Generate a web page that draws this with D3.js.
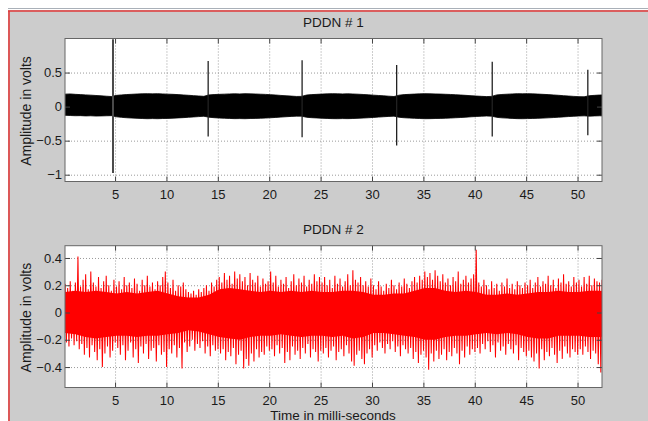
<!DOCTYPE html>
<html>
<head>
<meta charset="utf-8">
<script src="https://cdn.jsdelivr.net/npm/d3@7"></script>
<style>
  body { margin: 0; background: #fff; }
  svg { display: block; }
  text { font-family: "Liberation Sans", Arial, sans-serif; fill: #1a1a1a; }
</style>
</head>
<body>
<svg id="chart" width="648" height="421"></svg>
<script>
// sample timing (ms)
var tStart = 0.14;
var blackStep = 0.5;
var redStep = 0.25;
var coreStep = 1;

// PDDN # 1 : envelope of the dense signal (volts), one pair per 0.5 ms
var pddn1Upper = [
  0.183,0.186,0.18,0.176,0.172,0.168,0.163,0.158,0.153,0.148,
  0.165,0.172,0.177,0.181,0.185,0.188,0.19,0.187,0.19,0.186,0.183,0.18,0.176,0.171,0.166,0.161,0.156,0.151,
  0.172,0.177,0.18,0.183,0.186,0.188,0.186,0.19,0.187,0.185,0.182,0.179,0.175,0.17,0.164,0.159,0.154,0.149,
  0.15,0.17,0.176,0.18,0.184,0.187,0.19,0.188,0.186,0.188,0.185,0.182,0.178,0.173,0.168,0.163,0.158,0.153,0.148,
  0.168,0.176,0.18,0.184,0.187,0.19,0.188,0.186,0.184,0.181,0.178,0.174,0.17,0.165,0.16,0.155,0.151,0.147,
  0.15,0.172,0.178,0.182,0.186,0.19,0.188,0.19,0.187,0.184,0.18,0.176,0.171,0.166,0.16,0.155,0.15,0.146,0.144,
  0.16,0.165,0.17,0.172
];
var pddn1Lower = [
  -0.128,-0.131,-0.134,-0.133,-0.137,-0.135,-0.139,-0.137,-0.135,-0.133,
  -0.15,-0.158,-0.164,-0.168,-0.172,-0.175,-0.178,-0.176,-0.178,-0.175,-0.173,-0.17,-0.166,-0.162,-0.157,-0.152,-0.147,-0.142,
  -0.156,-0.163,-0.168,-0.171,-0.174,-0.177,-0.176,-0.178,-0.175,-0.173,-0.171,-0.168,-0.164,-0.159,-0.154,-0.149,-0.144,-0.14,
  -0.14,-0.157,-0.163,-0.167,-0.171,-0.174,-0.177,-0.178,-0.176,-0.177,-0.175,-0.172,-0.168,-0.164,-0.159,-0.154,-0.149,-0.144,-0.14,
  -0.157,-0.164,-0.168,-0.172,-0.175,-0.178,-0.177,-0.175,-0.173,-0.171,-0.168,-0.164,-0.16,-0.155,-0.15,-0.145,-0.141,-0.138,
  -0.14,-0.158,-0.165,-0.169,-0.173,-0.177,-0.178,-0.176,-0.174,-0.172,-0.169,-0.165,-0.161,-0.156,-0.151,-0.146,-0.142,-0.138,-0.136,
  -0.14,-0.137,-0.135,-0.137
];
// PDDN # 1 : discharge pulses
var pulseTime = [4.8, 14.06, 23.2, 32.4, 41.7, 51.0];
var pulseMax = [0.99, 0.67, 0.68, 0.61, 0.66, 0.54];
var pulseMin = [-0.975, -0.44, -0.45, -0.57, -0.44, -0.42];

// PDDN # 2 : solid core of the noise, one pair per 1 ms
var pddn2CoreHi = [
  0.15,0.16,0.15,0.16,0.15, 0.14,0.15,0.14,0.15,0.16,
  0.14,0.12,0.11,0.11,0.13, 0.17,0.18,0.17,0.16,0.15,
  0.16,0.15,0.16,0.15,0.16, 0.15,0.15,0.16,0.16,0.15,
  0.13,0.13,0.14,0.14,0.16, 0.18,0.18,0.16,0.15,0.16,
  0.15,0.13,0.13,0.14,0.13, 0.14,0.15,0.15,0.16,0.15,
  0.15,0.16,0.16,0.15
];
var pddn2CoreLo = [
  -0.15,-0.16,-0.18,-0.19,-0.18, -0.17,-0.17,-0.18,-0.17,-0.17,
  -0.16,-0.15,-0.13,-0.14,-0.16, -0.18,-0.19,-0.2,-0.18,-0.17,
  -0.17,-0.16,-0.17,-0.18,-0.17, -0.17,-0.18,-0.17,-0.19,-0.18,
  -0.15,-0.15,-0.16,-0.17,-0.18, -0.2,-0.2,-0.18,-0.17,-0.17,
  -0.16,-0.15,-0.16,-0.15,-0.16, -0.18,-0.19,-0.19,-0.17,-0.17,
  -0.17,-0.18,-0.18,-0.17
];
// PDDN # 2 : peak / trough per 0.25 ms
var pddn2Hi = [
  0.21,0.18,0.23,0.16,0.22,0.41,0.19,0.24,0.28,0.17,0.30,0.22,0.19,0.26,0.18,0.23,0.27,0.2,0.16,0.24,
  0.19,0.23,0.17,0.26,0.2,0.22,0.18,0.25,0.21,0.16,0.24,0.2,0.27,0.19,0.22,0.17,0.23,0.2,0.26,0.3,
  0.22,0.18,0.24,0.16,0.2,0.19,0.22,0.17,0.15,0.14,0.16,0.13,0.17,0.15,0.18,0.2,0.16,0.22,0.19,0.24,
  0.26,0.22,0.29,0.24,0.27,0.21,0.3,0.25,0.28,0.23,0.26,0.2,0.29,0.24,0.22,0.27,0.19,0.25,0.21,0.23,
  0.3,0.22,0.27,0.19,0.24,0.21,0.26,0.18,0.23,0.28,0.2,0.25,0.22,0.27,0.19,0.24,0.21,0.28,0.23,0.26,
  0.22,0.26,0.2,0.24,0.18,0.27,0.21,0.25,0.19,0.23,0.28,0.2,0.31,0.24,0.22,0.26,0.2,0.23,0.19,0.25,
  0.2,0.17,0.23,0.19,0.16,0.21,0.18,0.24,0.2,0.17,0.22,0.19,0.25,0.21,0.18,0.23,0.26,0.22,0.27,0.24,
  0.3,0.26,0.29,0.24,0.31,0.27,0.23,0.28,0.22,0.25,0.2,0.26,0.23,0.3,0.21,0.24,0.27,0.22,0.25,0.28,
  0.46,0.22,0.19,0.24,0.2,0.17,0.23,0.18,0.21,0.16,0.22,0.19,0.25,0.18,0.21,0.17,0.23,0.2,0.18,0.22,
  0.2,0.24,0.18,0.22,0.26,0.19,0.23,0.21,0.27,0.2,0.24,0.18,0.25,0.22,0.28,0.21,0.23,0.19,0.26,0.22,
  0.24,0.19,0.26,0.21,0.27,0.2,0.25,0.23,0.22,0.24
];
var pddn2Lo = [
  -0.22,-0.25,-0.19,-0.24,-0.21,-0.27,-0.23,-0.31,-0.26,-0.33,-0.24,-0.29,-0.35,-0.27,-0.4,-0.3,-0.25,-0.33,-0.28,-0.22,
  -0.26,-0.31,-0.24,-0.35,-0.28,-0.22,-0.33,-0.27,-0.37,-0.25,-0.3,-0.23,-0.34,-0.28,-0.26,-0.36,-0.24,-0.31,-0.29,-0.4,
  -0.27,-0.3,-0.24,-0.33,-0.26,-0.41,-0.22,-0.29,-0.25,-0.2,-0.28,-0.23,-0.26,-0.21,-0.3,-0.25,-0.32,-0.24,-0.28,-0.27,
  -0.3,-0.27,-0.35,-0.29,-0.32,-0.26,-0.38,-0.31,-0.28,-0.41,-0.34,-0.39,-0.3,-0.36,-0.27,-0.33,-0.29,-0.31,-0.25,-0.28,
  -0.27,-0.32,-0.24,-0.3,-0.26,-0.37,-0.29,-0.35,-0.25,-0.31,-0.28,-0.34,-0.26,-0.3,-0.23,-0.33,-0.27,-0.29,-0.36,-0.28,
  -0.3,-0.26,-0.33,-0.28,-0.25,-0.35,-0.29,-0.27,-0.32,-0.24,-0.3,-0.36,-0.39,-0.31,-0.28,-0.34,-0.38,-0.3,-0.27,-0.33,
  -0.24,-0.28,-0.22,-0.26,-0.3,-0.23,-0.27,-0.21,-0.29,-0.25,-0.32,-0.24,-0.27,-0.3,-0.26,-0.34,-0.29,-0.37,-0.31,-0.28,
  -0.33,-0.42,-0.3,-0.36,-0.28,-0.34,-0.31,-0.27,-0.35,-0.29,-0.32,-0.26,-0.3,-0.38,-0.28,-0.33,-0.25,-0.31,-0.27,-0.29,
  -0.26,-0.3,-0.23,-0.27,-0.21,-0.29,-0.24,-0.33,-0.22,-0.28,-0.25,-0.31,-0.23,-0.27,-0.3,-0.24,-0.35,-0.26,-0.29,-0.32,
  -0.28,-0.33,-0.36,-0.3,-0.41,-0.27,-0.35,-0.29,-0.32,-0.26,-0.31,-0.37,-0.28,-0.34,-0.25,-0.3,-0.33,-0.27,-0.29,-0.31,
  -0.27,-0.31,-0.25,-0.29,-0.34,-0.28,-0.3,-0.38,-0.44,-0.3
];

// axis ticks
var xTicks = [5, 10, 15, 20, 25, 30, 35, 40, 45, 50];
var y1Ticks = [-1, -0.5, 0, 0.5];
var y2Ticks = [-0.4, -0.2, 0, 0.2, 0.4];

var svg = d3.select("#chart");

// figure window
svg.append("rect").attr("x", 0).attr("y", 0).attr("width", 648).attr("height", 421).attr("fill", "#fff");
svg.append("rect").attr("x", 8).attr("y", 10).attr("width", 640).attr("height", 411).attr("fill", "#cccccc");
svg.append("line").attr("x1", 8).attr("y1", 8.5).attr("x2", 648).attr("y2", 8.5)
  .attr("stroke", "#a9b0b8").attr("stroke-width", 1);
svg.append("line").attr("x1", 8).attr("y1", 11).attr("x2", 648).attr("y2", 11)
  .attr("stroke", "#e03a3a").attr("stroke-width", 1.6);
svg.append("line").attr("x1", 9).attr("y1", 11).attr("x2", 9).attr("y2", 421)
  .attr("stroke", "#e03a3a").attr("stroke-width", 1.6);

function makePanel(top, bottom, yDomain, yTicks, title, titleY, clipId) {
  var left = 65, right = 602;
  var x = d3.scaleLinear().domain([0.13, 52.38]).range([left, right]);
  var y = d3.scaleLinear().domain(yDomain).range([bottom, top]);
  var g = svg.append("g");

  g.append("rect").attr("x", left).attr("y", top)
    .attr("width", right - left).attr("height", bottom - top).attr("fill", "#fff");

  // dotted grid
  g.append("g").attr("transform", "translate(0," + bottom + ")")
    .call(d3.axisBottom(x).tickValues(xTicks).tickSize(-(bottom - top)).tickFormat(""))
    .call(function (a) { a.select(".domain").remove(); })
    .selectAll("line").attr("stroke", "#9a9a9a").attr("stroke-dasharray", "1,2");
  g.append("g").attr("transform", "translate(" + left + ",0)")
    .call(d3.axisLeft(y).tickValues(yTicks).tickSize(-(right - left)).tickFormat(""))
    .call(function (a) { a.select(".domain").remove(); })
    .selectAll("line").attr("stroke", "#9a9a9a").attr("stroke-dasharray", "1,2");

  svg.append("clipPath").attr("id", clipId).append("rect")
    .attr("x", left).attr("y", top).attr("width", right - left).attr("height", bottom - top);

  var plot = g.append("g").attr("clip-path", "url(#" + clipId + ")");

  // inward ticks, labels on bottom and left
  var ax = g.append("g").attr("transform", "translate(0," + bottom + ")")
    .call(d3.axisBottom(x).tickValues(xTicks).tickSize(-5).tickPadding(8));
  var ay = g.append("g").attr("transform", "translate(" + left + ",0)")
    .call(d3.axisLeft(y).tickValues(yTicks).tickSize(-5).tickPadding(3).tickFormat(d3.format("")));
  var at = g.append("g").attr("transform", "translate(0," + top + ")")
    .call(d3.axisTop(x).tickValues(xTicks).tickSize(-5).tickFormat(""));
  var ar = g.append("g").attr("transform", "translate(" + right + ",0)")
    .call(d3.axisRight(y).tickValues(yTicks).tickSize(-5).tickFormat(""));
  [ax, ay, at, ar].forEach(function (a) {
    a.select(".domain").remove();
    a.selectAll("line").attr("stroke", "#444");
    a.selectAll("text").attr("font-size", 13).attr("fill", "#1a1a1a")
      .style("font-family", "'Liberation Sans', Arial, sans-serif");
  });

  g.append("text").attr("x", (left + right) / 2).attr("y", titleY)
    .attr("text-anchor", "middle").attr("font-size", 13.5).text(title);

  g.append("text")
    .attr("transform", "translate(31," + ((top + bottom) / 2 + 1) + ") rotate(-90)")
    .attr("text-anchor", "middle").attr("font-size", 14).text("Amplitude in volts");

  return { x: x, y: y, g: g, plot: plot, left: left, right: right, top: top, bottom: bottom };
}

// ---- PDDN # 1 ----
var p1 = makePanel(38.5, 181.5, [-1.1, 1.0], y1Ticks, "PDDN # 1", 26.5, "clip1");

p1.plot.append("path")
  .datum(pddn1Upper.map(function (u, i) { return { t: tStart + i * blackStep, hi: u, lo: pddn1Lower[i] }; }))
  .attr("d", d3.area()
    .x(function (d) { return p1.x(d.t); })
    .y0(function (d) { return p1.y(d.lo); })
    .y1(function (d) { return p1.y(d.hi); }))
  .attr("fill", "#000").attr("stroke", "#000").attr("stroke-width", 0.8);

p1.plot.selectAll("line.pulse")
  .data(pulseTime)
  .enter().append("line")
  .attr("class", "pulse")
  .attr("x1", function (d) { return p1.x(d); })
  .attr("x2", function (d) { return p1.x(d); })
  .attr("y1", function (d, i) { return p1.y(pulseMax[i]); })
  .attr("y2", function (d, i) { return p1.y(pulseMin[i]); })
  .attr("stroke", function (d, i) { return i === 0 ? "#4a4a4a" : "#222"; })
  .attr("stroke-width", function (d, i) { return i === 0 ? 2 : 1.3; });

// ---- PDDN # 2 ----
var p2 = makePanel(245.7, 387.5, [-0.55, 0.49], y2Ticks, "PDDN # 2", 234, "clip2");

p2.plot.append("path")
  .datum(pddn2CoreHi.map(function (h, i) { return { t: tStart + i * coreStep, hi: h, lo: pddn2CoreLo[i] }; }))
  .attr("d", d3.area()
    .x(function (d) { return p2.x(d.t); })
    .y0(function (d) { return p2.y(d.lo); })
    .y1(function (d) { return p2.y(d.hi); }))
  .attr("fill", "#ff0000");

var pts = [];
pddn2Hi.forEach(function (h, i) {
  var t = tStart + i * redStep;
  pts.push([t, h]);
  pts.push([t + redStep / 2, pddn2Lo[i]]);
});

p2.plot.append("path")
  .datum(pts)
  .attr("d", d3.line()
    .x(function (d) { return p2.x(d[0]); })
    .y(function (d) { return p2.y(d[1]); }))
  .attr("fill", "none").attr("stroke", "#ff0000").attr("stroke-width", 1.05);

// axes boxes on top of data
[p1, p2].forEach(function (p) {
  p.g.append("rect").attr("x", p.left).attr("y", p.top)
    .attr("width", p.right - p.left).attr("height", p.bottom - p.top)
    .attr("fill", "none").attr("stroke", "#666").attr("stroke-width", 1);
});

svg.append("text").attr("x", 333).attr("y", 419.5)
  .attr("text-anchor", "middle").attr("font-size", 13.5).text("Time in milli-seconds");
</script>
</body>
</html>
